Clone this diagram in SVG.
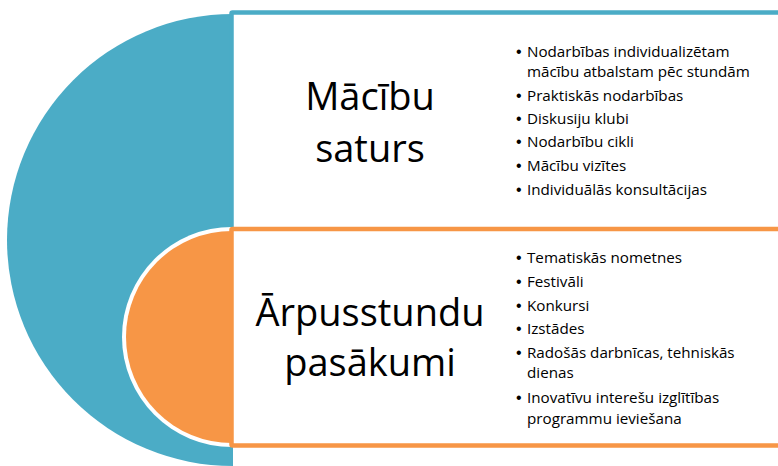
<svg xmlns="http://www.w3.org/2000/svg" width="778" height="466" viewBox="0 0 778 466">
<style>
.title{font-family:"Open Sans","Noto Sans",sans-serif;font-size:38px;fill:#000;text-anchor:middle}
.item{font-family:"Open Sans","Noto Sans",sans-serif;font-size:15.2px;fill:#000}
.bul{font-family:"Liberation Sans",Arial,sans-serif;font-size:16px;fill:#000}
.box{fill:#fff;stroke-width:4.5}
</style>
<g id="node-macibu-saturs">
<path d="M233 14 A226 226 0 0 0 233 466 Z" fill="#4BACC6"/>
<rect class="box" x="231.5" y="12.5" width="560" height="230" rx="1" stroke="#4BACC6"/>
<text class="title" x="370" y="110">Mācību</text>
<text class="title" x="370" y="161.7">saturs</text>
<g>
<text class="bul" x="516" y="56.7">•</text><text class="item" x="527" y="56.7">Nodarbības individualizētam</text>
<text class="item" x="527" y="76.7">mācību atbalstam pēc stundām</text>
<text class="bul" x="516" y="100.7">•</text><text class="item" x="527" y="100.7">Praktiskās nodarbības</text>
<text class="bul" x="516" y="124">•</text><text class="item" x="527" y="124">Diskusiju klubi</text>
<text class="bul" x="516" y="147.3">•</text><text class="item" x="527" y="147.3">Nodarbību cikli</text>
<text class="bul" x="516" y="170.7">•</text><text class="item" x="527" y="170.7">Mācību vizītes</text>
<text class="bul" x="516" y="195">•</text><text class="item" x="527" y="195">Individuālās konsultācijas</text>
</g>
</g>
<g id="node-arpusstundu-pasakumi">
<path d="M232 227 A110 110 0 0 0 232 447 Z" fill="#fff"/>
<path d="M232 231 A106 106 0 0 0 232 443 Z" fill="#F79646"/>
<rect class="box" x="231.5" y="229" width="560" height="216.5" rx="1" stroke="#F79646"/>
<text class="title" x="370" y="325.5">Ārpusstundu</text>
<text class="title" x="370" y="375.5">pasākumi</text>
<g>
<text class="bul" x="516" y="263.3">•</text><text class="item" x="527" y="263.3">Tematiskās nometnes</text>
<text class="bul" x="516" y="286.7">•</text><text class="item" x="527" y="286.7">Festivāli</text>
<text class="bul" x="516" y="310.7">•</text><text class="item" x="527" y="310.7">Konkursi</text>
<text class="bul" x="516" y="334.3">•</text><text class="item" x="527" y="334.3">Izstādes</text>
<text class="bul" x="516" y="358.3">•</text><text class="item" x="527" y="358.3">Radošās darbnīcas, tehniskās</text>
<text class="item" x="527" y="378.3">dienas</text>
<text class="bul" x="516" y="403">•</text><text class="item" x="527" y="403">Inovatīvu interešu izglītības</text>
<text class="item" x="527" y="423.5">programmu ieviešana</text>
</g>
</g>
<g id="connectors"/>
</svg>
